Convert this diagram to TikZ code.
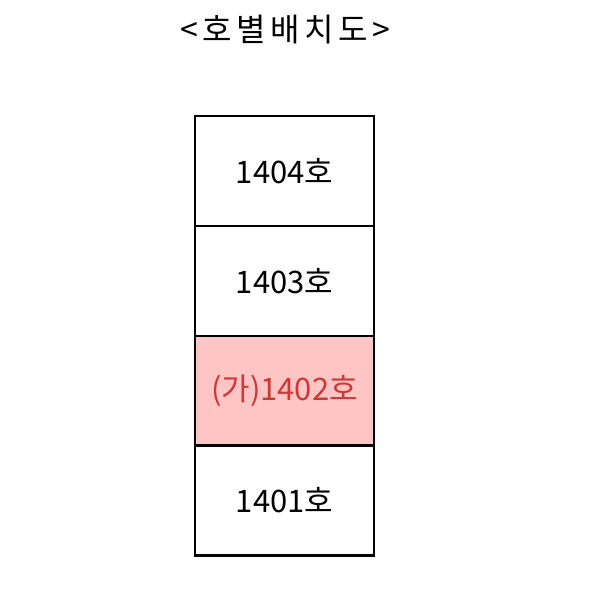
\documentclass[tikz,border=0pt]{standalone}
\usepackage{fontspec}
\newfontfamily\kr{Noto Sans CJK KR}
\newfontfamily\krsp{Noto Sans CJK KR}[LetterSpace=14]
\definecolor{pinkfill}{HTML}{FFC4C4}
\definecolor{redtxt}{HTML}{D03838}
\begin{document}
\begin{tikzpicture}[x=1pt,y=-1pt,
  room/.style={draw=black,line width=2.2pt,minimum width=179pt,minimum height=110pt,inner sep=0pt,font=\kr\fontsize{31}{33}\selectfont},
]
\useasboundingbox (0,0) rectangle (595,600);
\node[font=\krsp\fontsize{32}{34}\selectfont] (title) at (285,30) {<호별배치도>};
\node[room] (r4) at (284.5,171) {1404호};
\node[room] (r3) at (284.5,281) {1403호};
\node[room,fill=pinkfill,text=redtxt] (r2) at (284.5,391) {(가)1402호};
\node[room] (r1) at (284.5,500.5) {1401호};
\end{tikzpicture}
\end{document}
